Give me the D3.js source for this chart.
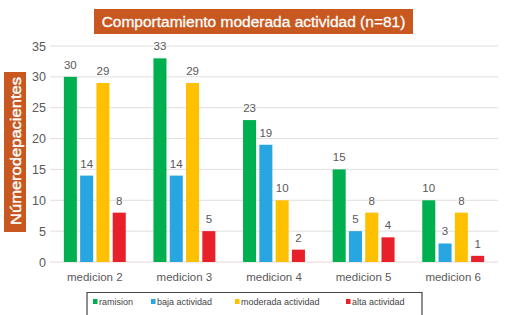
<!DOCTYPE html>
<html><head><meta charset="utf-8">
<script src="https://cdn.jsdelivr.net/npm/d3@7"></script>
<style>body{margin:0;background:#fff}svg{display:block;font-family:"Liberation Sans",Arial,sans-serif}</style>
</head><body><svg id="c" width="505" height="315"></svg>
<script>
const categories = ["medicion 2","medicion 3","medicion 4","medicion 5","medicion 6"];
const seriesNames = ["ramision","baja actividad","moderada actividad","alta actividad"];
const remision = [30,33,23,15,10];
const bajaActividad = [14,14,19,5,3];
const moderadaActividad = [29,29,10,8,8];
const altaActividad = [8,5,2,4,1];
const yTicks = [0,5,10,15,20,25,30,35];
const colors = ["#00b050","#27a6e1","#ffc000","#e8202a"];
const series = [remision,bajaActividad,moderadaActividad,altaActividad];

const svg = d3.select("#c");
const L=50, R=498, T=46, B=262;
const x0 = d3.scaleBand().domain(categories).range([L,R]);
const x1 = d3.scaleBand().domain(d3.range(4)).range([0,x0.bandwidth()]).paddingInner(0.2).paddingOuter(0.85);
const y = d3.scaleLinear().domain([0,35]).range([B,T]);

// gridlines
svg.append("g").selectAll("line").data(yTicks).join("line")
  .attr("x1",L).attr("x2",R).attr("y1",d=>y(d)).attr("y2",d=>y(d))
  .attr("stroke",d=>d===0?"#ecd6d6":"#e4dede").attr("stroke-width",1);
// y tick labels
svg.append("g").selectAll("text").data(yTicks).join("text")
  .attr("x",46).attr("y",d=>y(d)+4.5).attr("text-anchor","end")
  .attr("font-size",12.5).attr("fill","#595959").text(d=>d);

// bars
const g = svg.append("g");
series.forEach((vals,si)=>{
  g.append("g").selectAll("rect").data(vals).join("rect")
    .attr("x",(d,i)=>x0(categories[i])+x1(si)).attr("width",x1.bandwidth())
    .attr("y",d=>y(d)).attr("height",d=>B-y(d)).attr("fill",colors[si]);
  g.append("g").selectAll("text").data(vals).join("text")
    .attr("x",(d,i)=>x0(categories[i])+x1(si)+x1.bandwidth()/2)
    .attr("y",d=>y(d)-8).attr("text-anchor","middle")
    .attr("font-size",11.5).attr("fill","#595959").text(d=>d);
});

// x labels
svg.append("g").selectAll("text").data(categories).join("text")
  .attr("x",d=>x0(d)+x0.bandwidth()/2).attr("y",281).attr("text-anchor","middle")
  .attr("font-size",11.5).attr("fill","#595959").text(d=>d);

// title
svg.append("rect").attr("x",94).attr("y",9).attr("width",319).attr("height",25).attr("fill","#c8581f");
svg.append("text").attr("x",253.5).attr("y",27).attr("text-anchor","middle")
  .attr("font-size",15.5).attr("fill","#fff").attr("stroke","#fff").attr("stroke-width",0.3)
  .text("Comportamiento moderada actividad (n=81)");

// y title
svg.append("rect").attr("x",4).attr("y",72).attr("width",22).attr("height",160).attr("fill","#c8581f");
svg.append("text").attr("transform","translate(20.5,151) rotate(-90)").attr("text-anchor","middle")
  .attr("font-size",14.5).attr("fill","#fff").attr("stroke","#fff").attr("stroke-width",0.4)
  .attr("textLength",148).attr("lengthAdjust","spacingAndGlyphs").text("Númerodepacientes");

// legend
svg.append("path").attr("d","M87,318 V292.5 H422 V318").attr("fill","none").attr("stroke","#444").attr("stroke-width",1.2);
const legX = [93,151,235,346];
const lg = svg.append("g").selectAll("g").data(seriesNames).join("g")
  .attr("transform",(d,i)=>`translate(${legX[i]},302)`);
lg.append("rect").attr("x",0).attr("y",-3).attr("width",4.5).attr("height",5).attr("fill",(d,i)=>colors[i]);
lg.append("text").attr("x",6).attr("y",2.5).attr("font-size",9).attr("fill","#444").text(d=>d);
</script></body></html>
